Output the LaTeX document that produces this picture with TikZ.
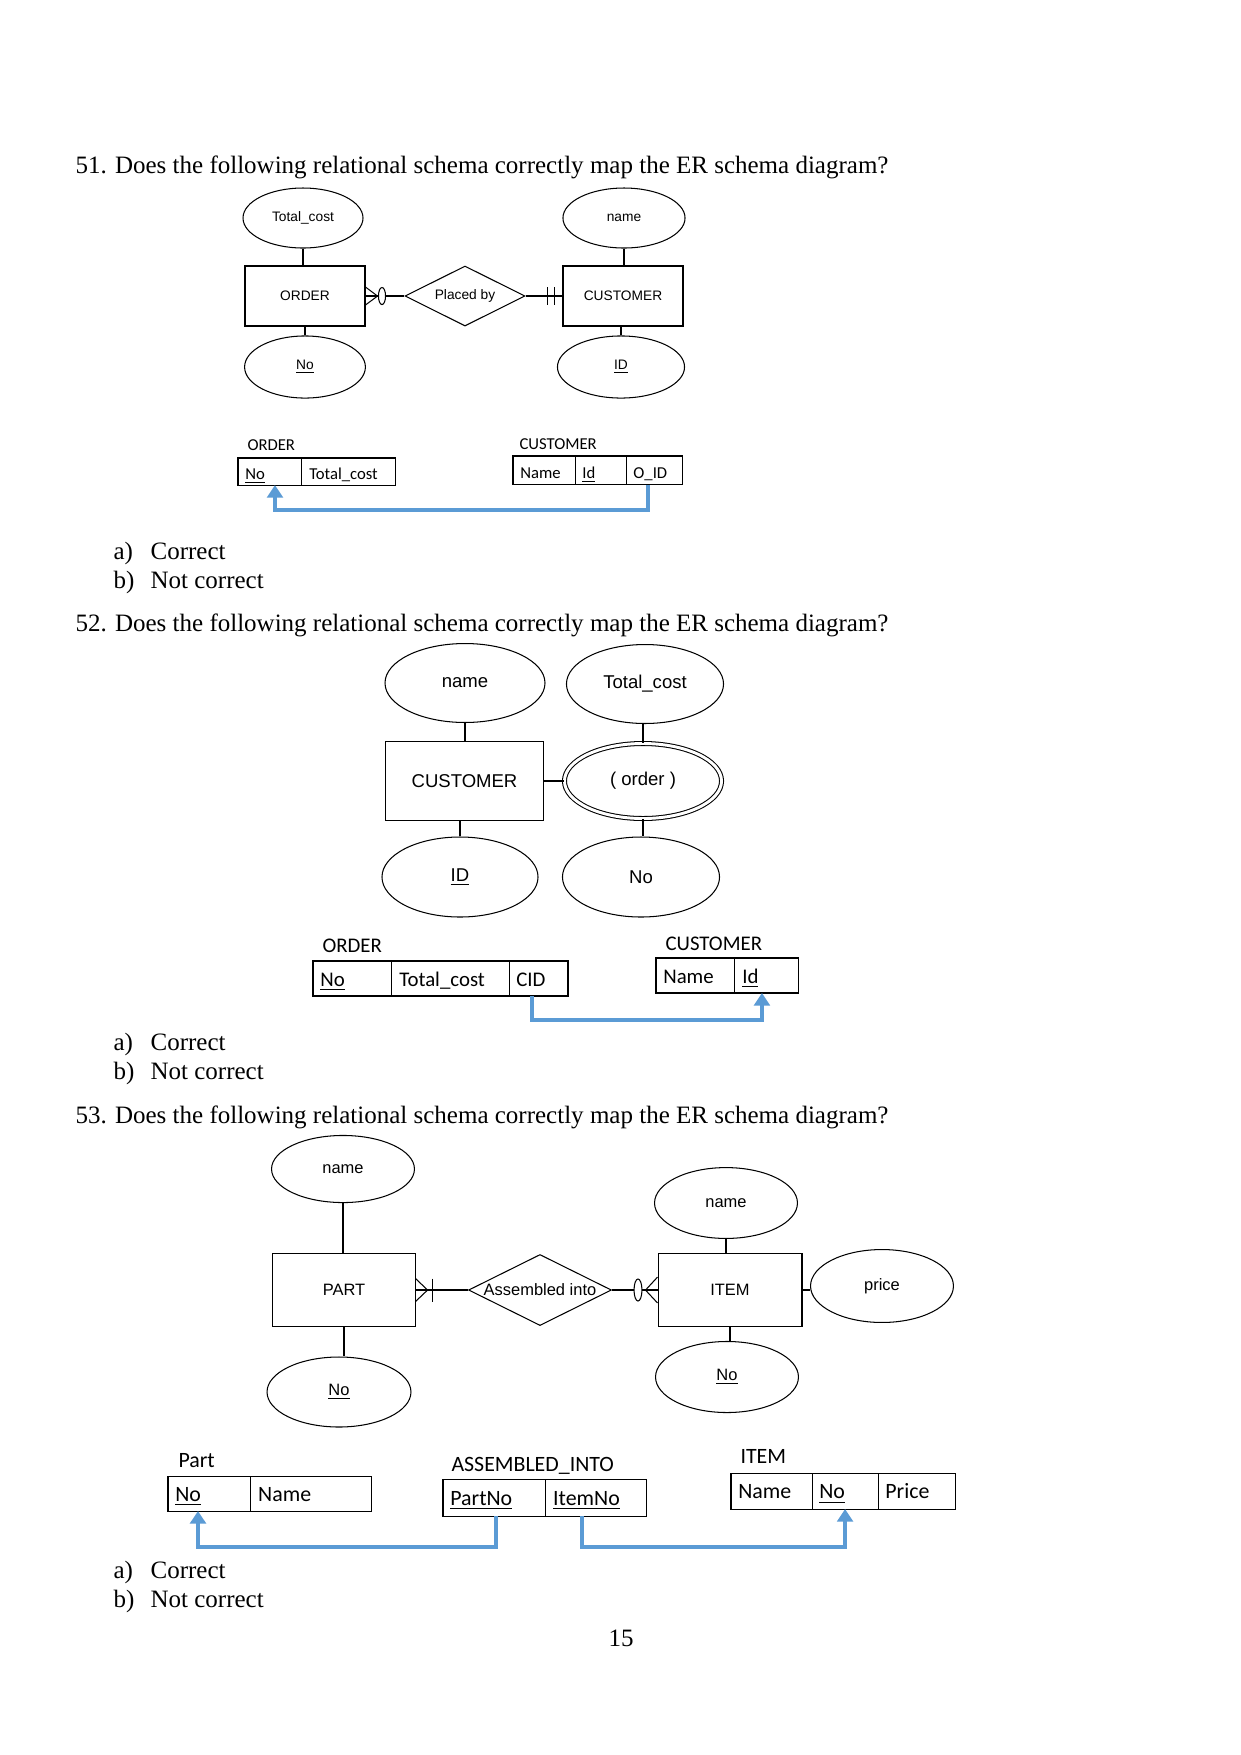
\documentclass[tikz,border=0pt]{standalone}
\usepackage{fontspec}
\setmainfont{Liberation Serif}
\newfontfamily\erfont{Liberation Sans}
\newfontfamily\tabfont{Carlito}
\usetikzlibrary{positioning,arrows.meta,shapes.geometric}
\definecolor{fkblue}{RGB}{91,155,213}

\begin{document}
\begin{tikzpicture}[
  x=0.48pt, y=-0.48pt, inner sep=0pt, line width=0.5pt,
  >={Triangle[length=6pt, width=7.5pt]},
  ent/.style={draw, rectangle},
  attr/.style={draw, ellipse},
  weak/.style={attr, double, double distance=1.4pt},
  rel/.style={draw, diamond, aspect=2},
  oval/.style={draw, ellipse, fill=white},
  cell/.style={draw, rectangle, outer sep=0pt, inner xsep=3.5pt, align=left,
               text height=0.84em, text depth=0.08em},
  tname/.style={anchor=base west},
  fk/.style={->, draw=fkblue, line width=1.8pt},
  qtxt/.style={anchor=base west, font=\fontsize{12}{14}\selectfont},
  erA/.style={font=\erfont\fontsize{6.6}{8}\selectfont},
  erB/.style={font=\erfont\fontsize{8.9}{10}\selectfont},
  erC/.style={font=\erfont\fontsize{7.9}{9}\selectfont},
  tbA/.style={font=\tabfont\fontsize{8}{10}\selectfont},
  tbB/.style={font=\tabfont\fontsize{10}{12}\selectfont},
  tbC/.style={font=\tabfont\fontsize{10.5}{12}\selectfont},
]
\fill[white] (0,0) rectangle (1241,1755);

% ---- question 51 ----
\node[qtxt] (q51) at (75,173) {51. Does the following relational schema correctly map the ER schema diagram?};
\node[ent, erA, minimum width=57.6pt, minimum height=28.8pt] (e1ord) at (305,296) {ORDER};
\node[attr, erA, minimum width=57.6pt, minimum height=28.8pt] (a1tc) at (303,218) {Total\_cost};
\node[attr, erA, minimum width=58pt, minimum height=29.8pt] (a1no) at (305,367) {\underline{No}};
\node[rel, erA, minimum width=57.6pt, minimum height=28.8pt] (r1pb) at (465,296) {Placed by};
\node[ent, erA, minimum width=57.6pt, minimum height=28.8pt] (e1cus) at (623,296) {CUSTOMER};
\node[attr, erA, minimum width=58.6pt, minimum height=28.8pt] (a1nm) at (624,218) {name};
\node[attr, erA, minimum width=61pt, minimum height=29.8pt] (a1id) at (621,367) {\underline{ID}};
\draw (a1tc.south) -- (a1tc.south |- e1ord.north);
\draw (e1ord.south) -- (e1ord.south |- a1no.north);
\draw (a1nm.south) -- (a1nm.south |- e1cus.north);
\draw (a1id.north) -- (a1id.north |- e1cus.south);
\draw (e1ord.east) -- (r1pb.west);
\draw (r1pb.east) -- (e1cus.west);
% crow's foot, zero-or-many / one-and-only-one
\draw ([yshift=4.3pt]e1ord.east) -- ++(12,9) -- ([yshift=-4.3pt]e1ord.east);
\node[oval, minimum width=3.4pt, minimum height=8.2pt] (o1) at (382,296) {};
\draw ([xshift=-7.2pt]e1cus.west) ++(0,-9) -- ++(0,18);
\draw ([xshift=-3.8pt]e1cus.west) ++(0,-9) -- ++(0,18);
% tables
\node[tname, tbA] (t1lo) at (247,450) {ORDER};
\node[cell, tbA, anchor=north west, text width=23.7pt, minimum height=13pt] (t1no) at (238,458) {\underline{No}};
\node[cell, tbA, right=0pt of t1no, text width=38.1pt, minimum height=13pt] (t1tc) {Total\_cost};
\node[tname, tbA] (t1lc) at (519,449) {CUSTOMER};
\node[cell, tbA, anchor=north west, text width=22.8pt, minimum height=13.9pt] (t1nm) at (513,456) {Name};
\node[cell, tbA, right=0pt of t1nm, text width=17.5pt, minimum height=13.9pt] (t1id) {\underline{Id}};
\node[cell, tbA, right=0pt of t1id, text width=19.9pt, minimum height=13.9pt] (t1oid) {O\_ID};
\draw[fk] ([xshift=-3pt]t1oid.south) -- ++(0,25) -| ([xshift=2.4pt]t1no.south);
\node[qtxt] (q51a) at (113,559) {\makebox[17.8pt][l]{a)}Correct};
\node[qtxt] (q51b) at (113,588) {\makebox[17.8pt][l]{b)}Not correct};

% ---- question 52 ----
\node[qtxt] (q52) at (75,631) {52. Does the following relational schema correctly map the ER schema diagram?};
\node[ent, erB, minimum width=75.4pt, minimum height=37.9pt] (e2cus) at (464.5,781) {CUSTOMER};
\node[attr, erB, minimum width=76.8pt, minimum height=37.9pt] (a2nm) at (465,683) {name};
\node[attr, erB, minimum width=75.4pt, minimum height=37.9pt] (a2tc) at (645,684) {Total\_cost};
\node[weak, erB, minimum width=75.4pt, minimum height=36pt] (a2ord) at (643,781) {( order )};
\node[attr, erB, minimum width=74.9pt, minimum height=38.4pt] (a2id) at (460,877) {\underline{ID}};
\node[attr, erB, minimum width=75.4pt, minimum height=38.4pt] (a2no) at (641,877) {No};
\draw (a2nm.south) -- (a2nm.south |- e2cus.north);
\draw (a2ord.north) -- (a2ord.north |- a2tc.south);
\draw (a2id.north) -- (a2id.north |- e2cus.south);
\draw (a2ord.south) -- (a2ord.south |- a2no.north);
\draw (e2cus.east) -- (a2ord.west);
% tables
\node[tname, tbB] (t2lo) at (322,952) {ORDER};
\node[cell, tbB, anchor=north west, text width=30.9pt, minimum height=16.8pt] (t2no) at (313,961) {\underline{No}};
\node[cell, tbB, right=0pt of t2no, text width=49.2pt, minimum height=16.8pt] (t2tc) {Total\_cost};
\node[cell, tbB, right=0pt of t2tc, text width=21.3pt, minimum height=16.8pt] (t2cid) {CID};
\node[tname, tbB] (t2lc) at (665,950) {CUSTOMER};
\node[cell, tbB, anchor=north west, text width=30.9pt, minimum height=16.8pt] (t2nm) at (656,958) {Name};
\node[cell, tbB, right=0pt of t2nm, text width=23.7pt, minimum height=16.8pt] (t2id) {\underline{Id}};
\draw[fk] ([xshift=-3.1pt]t2cid.south) -- ++(0,24) -| ([xshift=-2.4pt]t2id.south);
\node[qtxt] (q52a) at (113,1050) {\makebox[17.8pt][l]{a)}Correct};
\node[qtxt] (q52b) at (113,1079) {\makebox[17.8pt][l]{b)}Not correct};

% ---- question 53 ----
\node[qtxt] (q53) at (75,1123) {53. Does the following relational schema correctly map the ER schema diagram?};
\node[ent, erC, minimum width=68.2pt, minimum height=34.6pt] (e3prt) at (344,1290) {PART};
\node[attr, erC, minimum width=68.6pt, minimum height=32.2pt] (a3nm) at (343,1169) {name};
\node[attr, erC, minimum width=69.1pt, minimum height=33.6pt] (a3no) at (339,1392) {\underline{No}};
\node[rel, erC, minimum width=68.6pt, minimum height=34.1pt] (r3asm) at (540,1290) {Assembled into};
\node[ent, erC, minimum width=69.1pt, minimum height=34.6pt] (e3itm) at (730,1290) {ITEM};
\node[attr, erC, minimum width=68.6pt, minimum height=34pt] (a3inm) at (726,1203) {name};
\node[attr, erC, minimum width=68.6pt, minimum height=35pt] (a3pr) at (882,1286) {price};
\node[attr, erC, minimum width=68.6pt, minimum height=34.1pt] (a3ino) at (727,1377) {\underline{No}};
\draw (a3nm.south) -- (a3nm.south |- e3prt.north);
\draw (e3prt.south) -- (e3prt.south |- a3no.north);
\draw (a3inm.south) -- (a3inm.south |- e3itm.north);
\draw (e3itm.south) -- (e3itm.south |- a3ino.north);
\draw (e3itm.east) -- (e3itm.east -| a3pr.west);
\draw (e3prt.east) -- (r3asm.west);
\draw (r3asm.east) -- (e3itm.west);
% crow's foot, one-or-many / zero-or-many
\draw ([yshift=5.5pt]e3prt.east) -- ++(12,11.5) -- ([yshift=-5.5pt]e3prt.east);
\draw ([xshift=8.2pt]e3prt.east) ++(0,-11.5) -- ++(0,23);
\draw ([yshift=6.2pt]e3itm.west) -- ++(-12,13) -- ([yshift=-6.2pt]e3itm.west);
\node[oval, minimum width=3.8pt, minimum height=10.6pt] (o3) at (638,1290) {};
% tables
\node[tname, tbC] (t3lp) at (178,1467) {Part};
\node[cell, tbC, anchor=north west, text width=32.8pt, minimum height=16.8pt] (t3no) at (168,1476) {\underline{No}};
\node[cell, tbC, right=0pt of t3no, text width=51.1pt, minimum height=16.8pt] (t3nm) {Name};
\node[tname, tbC] (t3la) at (451,1471) {ASSEMBLED\_INTO};
\node[cell, tbC, anchor=north west, text width=42.4pt, minimum height=17.8pt] (t3pno) at (443,1479) {\underline{PartNo}};
\node[cell, tbC, right=0pt of t3pno, text width=41.5pt, minimum height=17.8pt] (t3ino) {\underline{ItemNo}};
\node[tname, tbC] (t3li) at (740,1463) {ITEM};
\node[cell, tbC, anchor=north west, text width=31.9pt, minimum height=17.3pt] (t3inm) at (731,1473) {Name};
\node[cell, tbC, right=0pt of t3inm, text width=24.7pt, minimum height=17.3pt] (t3ino2) {\underline{No}};
\node[cell, tbC, right=0pt of t3ino2, text width=30pt, minimum height=17.3pt] (t3ipr) {Price};
\draw[fk] ([xshift=0.7pt]t3pno.south) -- ++(0,31) -| ([xshift=-5.5pt]t3no.south);
\draw[fk] ([xshift=-7pt]t3ino.south) -- ++(0,31) -| (t3ino2.south);
\node[qtxt] (q53a) at (113,1578) {\makebox[17.8pt][l]{a)}Correct};
\node[qtxt] (q53b) at (113,1607) {\makebox[17.8pt][l]{b)}Not correct};

\node[qtxt, anchor=base] (pg) at (621,1646) {15};
\end{tikzpicture}
\end{document}
